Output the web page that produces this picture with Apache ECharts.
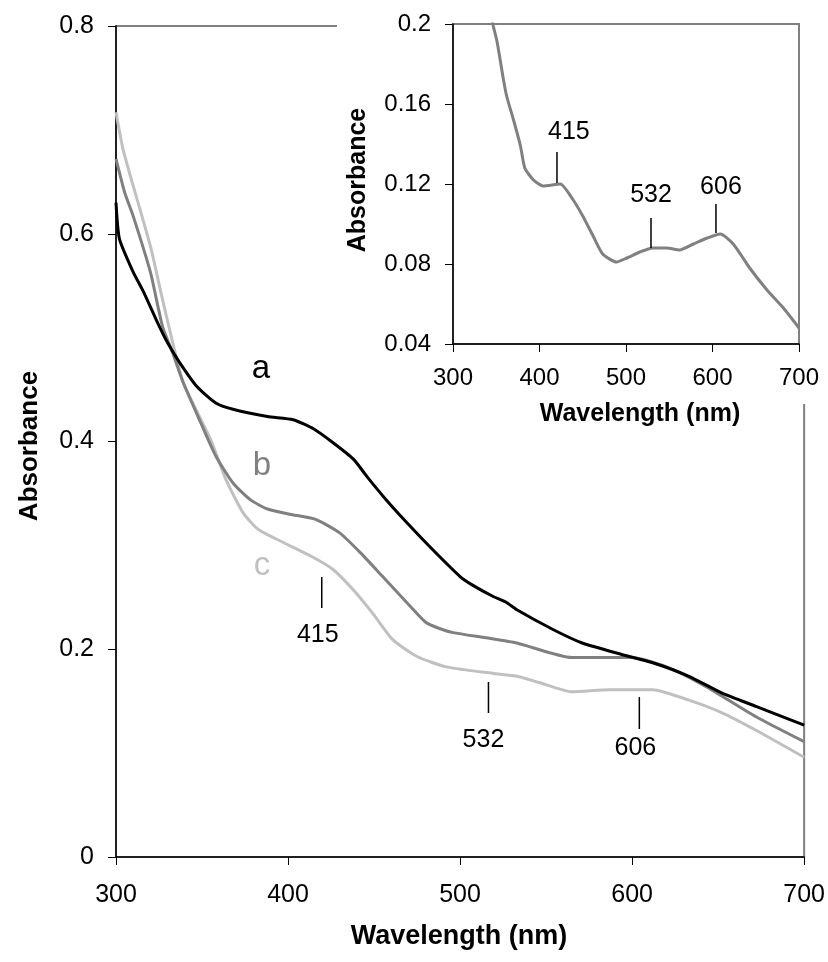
<!DOCTYPE html>
<html><head><meta charset="utf-8">
<script src="https://cdn.jsdelivr.net/npm/echarts@6/dist/echarts.min.js"></script>
<style>html,body{margin:0;padding:0;background:#fff}#c{width:828px;height:962px}</style>
</head><body><div id="c"></div>
<script>
// ---- data ----
const nmA  = [300,302,310,316,324,330,337,347,358,368,388,403,415,426,438,446,457,469,484,500,507,519,527,533,554,571,594,612,633,652,672,700];
const absA = [0.630,0.595,0.563,0.544,0.515,0.495,0.476,0.453,0.437,0.431,0.424,0.421,0.412,0.399,0.383,0.366,0.344,0.322,0.296,0.270,0.262,0.251,0.245,0.238,0.219,0.206,0.195,0.187,0.174,0.158,0.145,0.127];

const nmB  = [300,305,310,320,327,333,339,349,358,368,378,388,401,416,430,442,455,469,480,488,496,515,533,565,600,620,643,672,700];
const absB = [0.672,0.640,0.617,0.563,0.511,0.485,0.457,0.419,0.386,0.360,0.344,0.335,0.330,0.325,0.312,0.293,0.270,0.245,0.226,0.220,0.216,0.211,0.206,0.192,0.192,0.183,0.164,0.135,0.111];

const nmC  = [300,304,310,320,327,333,339,355,364,374,383,397,414,426,438,449,461,475,492,513,533,546,565,587,612,633,652,672,700];
const absC = [0.717,0.682,0.646,0.588,0.537,0.495,0.457,0.402,0.363,0.331,0.315,0.303,0.289,0.277,0.257,0.235,0.209,0.193,0.183,0.178,0.174,0.168,0.159,0.161,0.161,0.151,0.139,0.122,0.096];

const nmInset  = [340,346,351,358,362,370,378,383,393,404,424,439,450,462,473,489,501,516,531,547,562,578,594,609,624,643,663,682,700];
const absInset = [0.214,0.200,0.191,0.173,0.164,0.152,0.139,0.128,0.122,0.119,0.120,0.112,0.104,0.094,0.085,0.081,0.083,0.086,0.088,0.088,0.087,0.090,0.093,0.095,0.090,0.078,0.067,0.058,0.048];

const xTicks = [300,400,500,600,700];
const mainYTicks = [0,0.2,0.4,0.6,0.8];
const insetYTicks = [0.04,0.08,0.12,0.16,0.2];

const seriesNames = ['a','b','c'];

// peak annotations (data coordinates)
const peakLabels = ['415','532','606'];
const mainPeakNm    = [419.6,516.5,604.2];
const mainPeakTop   = [0.2696,0.1685,0.1540];
const mainPeakBot   = [0.2397,0.1386,0.1232];
const mainLabelNm   = [417.3,513.6,601.9];
const mainLabelAbs  = [0.2137,0.1126,0.1049];
const insetPeakNm   = [420.2,528.9,604.0];
const insetPeakTop  = [0.1360,0.1030,0.1100];
const insetPeakBot  = [0.1205,0.0880,0.0955];
const insetLabelNm  = [434.0,528.9,609.8];
const insetLabelAbs = [0.1460,0.1145,0.1185];

// ---- chart ----
const FONT = '"Liberation Sans", Arial, sans-serif';
const zip = (xs, ys) => xs.map((x, i) => [x, ys[i]]);
const chart = echarts.init(document.getElementById('c'), null, {renderer: 'canvas'});

function axisX(gridIndex, size, margin, z) {
  return {
    type: 'value', gridIndex, min: xTicks[0], max: xTicks[xTicks.length-1], interval: 100, z,
    axisLine: {show: true, onZero: false, lineStyle: {color: '#000', width: 1.5}},
    axisTick: {show: true, length: 8, lineStyle: {color: '#000', width: 1}},
    axisLabel: {color: '#000', fontSize: size, fontFamily: FONT, margin},
    splitLine: {show: false}
  };
}
function axisY(gridIndex, ticks, interval, size, margin, z) {
  return {
    type: 'value', gridIndex, min: ticks[0], max: ticks[ticks.length-1], interval, z,
    axisLine: {show: true, onZero: false, lineStyle: {color: '#000', width: 1.5}},
    axisTick: {show: true, length: 8, lineStyle: {color: '#000', width: 1}},
    axisLabel: {color: '#000', fontSize: size, fontFamily: FONT, margin,
      formatter: v => String(+v.toFixed(2))},
    splitLine: {show: false}
  };
}

const lineColors = ['#000000', '#808080', '#c0c0c0'];
const mainData = [zip(nmA, absA), zip(nmB, absB), zip(nmC, absC)];

const option = {
  animation: false,
  backgroundColor: '#fff',
  grid: [
    {left: 116, top: 26, right: 23, bottom: 105, show: true, borderColor: '#808080', borderWidth: 2, backgroundColor: 'transparent', z: 0},
    {left: 453, top: 24, right: 29, bottom: 618, show: true, borderColor: '#808080', borderWidth: 2, backgroundColor: 'transparent', z: 6}
  ],
  xAxis: [axisX(0, 25, 26, 0), axisX(1, 24, 22, 6)],
  yAxis: [axisY(0, mainYTicks, 0.2, 25, 22, 0), axisY(1, insetYTicks, 0.04, 24, 22, 6)],
  series: [
    ...mainData.map((d, i) => ({
      type: 'line', name: seriesNames[i], xAxisIndex: 0, yAxisIndex: 0, data: d,
      showSymbol: false, symbol: 'none', z: 2 + (2 - i) * 0.1,
      smooth: 0.2,
      lineStyle: {color: lineColors[i], width: 3}
    })),
    {type: 'line', name: 'inset', xAxisIndex: 1, yAxisIndex: 1, data: zip(nmInset, absInset),
      showSymbol: false, symbol: 'none', z: 7, clip: true,
      smooth: 0.2,
      lineStyle: {color: '#808080', width: 3}}
  ]
};
chart.setOption(option);

// ---- annotations computed from data coordinates ----
const els = [];
els.push({type: 'rect', z: 5, shape: {x: 337, y: 0, width: 491, height: 404}, style: {fill: '#fff'}, silent: true});
function txt(x, y, text, font, fill, extra) {
  return Object.assign({type: 'text', z: 10, x, y, style: {text, font, fill: fill || '#000', align: 'center', verticalAlign: 'middle'}}, extra || {});
}
for (let i = 0; i < peakLabels.length; i++) {
  const t = chart.convertToPixel({gridIndex: 0}, [mainPeakNm[i], mainPeakTop[i]]);
  const b = chart.convertToPixel({gridIndex: 0}, [mainPeakNm[i], mainPeakBot[i]]);
  els.push({type: 'line', z: 10, shape: {x1: t[0], y1: t[1], x2: b[0], y2: b[1]}, style: {stroke: '#000', lineWidth: 1.5}});
  const l = chart.convertToPixel({gridIndex: 0}, [mainLabelNm[i], mainLabelAbs[i]]);
  els.push(txt(l[0], l[1], peakLabels[i], '25px ' + FONT));
  const t2 = chart.convertToPixel({gridIndex: 1}, [insetPeakNm[i], insetPeakTop[i]]);
  const b2 = chart.convertToPixel({gridIndex: 1}, [insetPeakNm[i], insetPeakBot[i]]);
  els.push({type: 'line', z: 10, shape: {x1: t2[0], y1: t2[1], x2: b2[0], y2: b2[1]}, style: {stroke: '#000', lineWidth: 1.5}});
  const l2 = chart.convertToPixel({gridIndex: 1}, [insetLabelNm[i], insetLabelAbs[i]]);
  els.push(txt(l2[0], l2[1], peakLabels[i], '25px ' + FONT));
}
// series letters
els.push(txt(261, 369, 'a', '33px ' + FONT, lineColors[0]));
els.push(txt(262, 466, 'b', '33px ' + FONT, lineColors[1]));
els.push(txt(262, 566, 'c', '33px ' + FONT, lineColors[2]));
// axis titles
els.push(txt(459, 937, 'Wavelength (nm)', 'bold 27px ' + FONT));
els.push(txt(30, 446, 'Absorbance', 'bold 26px ' + FONT, '#000', {rotation: Math.PI / 2}));
els.push(txt(640, 414, 'Wavelength (nm)', 'bold 25px ' + FONT));
els.push(txt(358, 180, 'Absorbance', 'bold 25px ' + FONT, '#000', {rotation: Math.PI / 2}));

chart.setOption({graphic: {elements: els}});
</script>
</body></html>
